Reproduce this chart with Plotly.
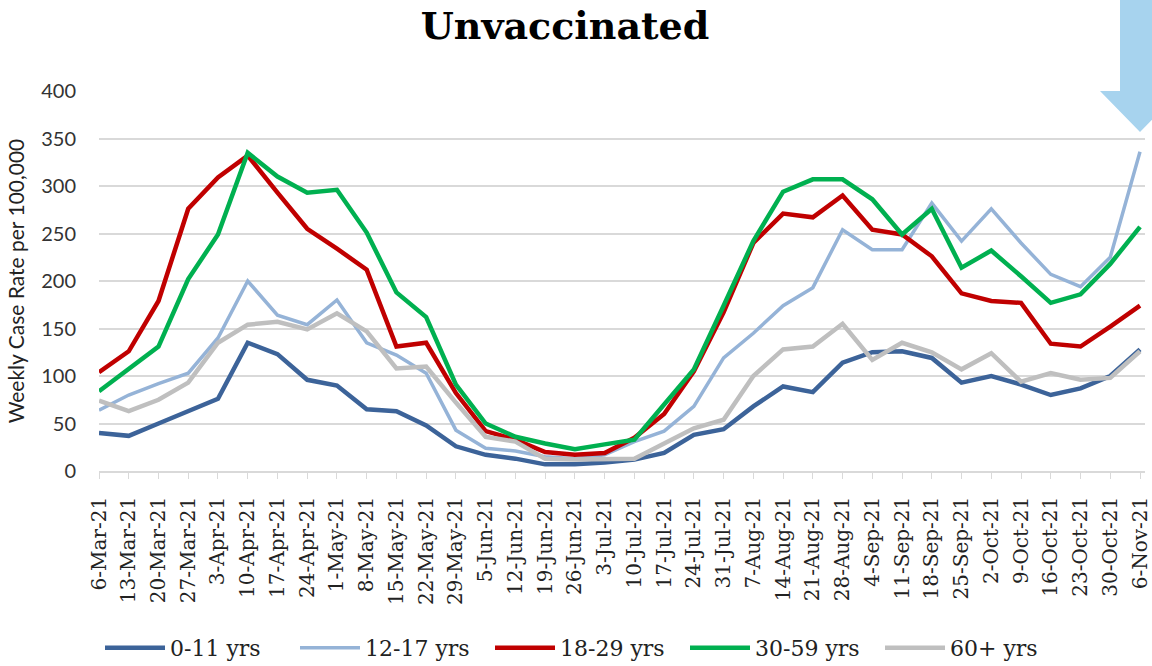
import plotly.graph_objects as go

dates = ["6-Mar-21", "13-Mar-21", "20-Mar-21", "27-Mar-21", "3-Apr-21", "10-Apr-21",
         "17-Apr-21", "24-Apr-21", "1-May-21", "8-May-21", "15-May-21", "22-May-21",
         "29-May-21", "5-Jun-21", "12-Jun-21", "19-Jun-21", "26-Jun-21", "3-Jul-21",
         "10-Jul-21", "17-Jul-21", "24-Jul-21", "31-Jul-21", "7-Aug-21", "14-Aug-21",
         "21-Aug-21", "28-Aug-21", "4-Sep-21", "11-Sep-21", "18-Sep-21", "25-Sep-21",
         "2-Oct-21", "9-Oct-21", "16-Oct-21", "23-Oct-21", "30-Oct-21", "6-Nov-21"]

age_0_11 = [40, 37, 50, 63, 76, 135, 123, 96, 90, 65, 63, 48,
            26, 17, 13, 7, 7, 9, 12, 19, 38, 44, 68, 89,
            83, 114, 125, 126, 119, 93, 100, 91, 80, 87, 100, 128]
age_12_17 = [64, 80, 92, 103, 140, 200, 164, 154, 180, 135, 122, 103,
             43, 24, 21, 15, 13, 17, 31, 42, 68, 119, 145, 174,
             193, 254, 233, 233, 282, 242, 276, 240, 207, 194, 225, 336]
age_18_29 = [104, 126, 179, 276, 309, 332, 293, 255, 234, 212, 131, 135,
             82, 42, 33, 20, 17, 19, 35, 60, 105, 167, 240, 271,
             267, 290, 254, 249, 226, 187, 179, 177, 134, 131, 152, 174]
age_30_59 = [84, 107, 131, 202, 249, 335, 310, 293, 296, 251, 188, 162,
             91, 50, 36, 29, 23, 28, 33, 70, 107, 174, 242, 294,
             307, 307, 286, 249, 276, 214, 232, 205, 177, 186, 218, 257]
age_60 = [74, 63, 75, 93, 135, 154, 157, 149, 166, 147, 108, 110,
          72, 36, 31, 13, 12, 13, 13, 29, 45, 54, 100, 128,
          131, 155, 117, 135, 125, 107, 124, 94, 103, 96, 98, 126]

series_names = ["0-11 yrs", "12-17 yrs", "18-29 yrs", "30-59 yrs", "60+ yrs"]
series_values = [age_0_11, age_12_17, age_18_29, age_30_59, age_60]
series_colors = ["#3C6399", "#95B3D7", "#C00000", "#00B050", "#BFBFBF"]
series_widths = [4.5, 3.5, 4.5, 4.5, 4.5]

y_ticks = [0, 50, 100, 150, 200, 250, 300, 350, 400]

fig = go.Figure()
for name, vals, col, w in zip(series_names, series_values, series_colors, series_widths):
    fig.add_trace(go.Scatter(x=list(range(len(dates))), y=vals, name=name, mode="lines",
                             line=dict(color=col, width=w)))

# plot area in pixels: x 99..1145, y 91..471
L, R, T, B = 99, 1145, 91, 471
W, H = R - L, B - T

def px(x):
    return (x - L) / W

def py(y):
    return (B - y) / H

# light blue arrow at top right
arrow_path = (f"M {px(1120)},{py(-5)} L {px(1160)},{py(-5)} L {px(1160)},{py(91)} "
              f"L {px(1180)},{py(91)} L {px(1140)},{py(132)} L {px(1100)},{py(91)} "
              f"L {px(1120)},{py(91)} Z")
fig.add_shape(type="path", xref="paper", yref="paper", path=arrow_path,
              fillcolor="#A7D3EE", line=dict(width=0), layer="above")

fig.update_layout(
    width=1152, height=666,
    margin=dict(l=L, r=1152 - R, t=T, b=666 - B, autoexpand=False),
    plot_bgcolor="white", paper_bgcolor="white",
    title=dict(text="<b>Unvaccinated</b>", x=565 / 1152, xanchor="center",
               y=1 - 26 / 666, yanchor="middle",
               font=dict(family="DejaVu Serif", size=38, color="black")),
    showlegend=True,
    legend=dict(orientation="h", x=px(100), xanchor="left", y=py(648), yanchor="middle",
                font=dict(family="DejaVu Serif", size=22, color="#222222"),
                itemwidth=60, entrywidth=120, traceorder="normal"),
    xaxis=dict(tickmode="array", tickvals=list(range(len(dates))), ticktext=dates,
               tickangle=-90, range=[0, 35 * W / 1041], automargin=False,
               tickfont=dict(family="DejaVu Serif", size=20, color="#222222"),
               showgrid=False, showline=True, linecolor="#D9D9D9", linewidth=1.5,
               ticks="outside", ticklen=6, tickcolor="#D9D9D9", ticklabelstandoff=10,
               zeroline=False),
    yaxis=dict(range=[0, 400], tickvals=y_ticks, showgrid=True, gridcolor="#D9D9D9",
               gridwidth=1.5, zeroline=False, showline=False, ticks="", automargin=False,
               ticklabelstandoff=22,
               tickfont=dict(family="Lato", size=20, color="#333333"),
               title=dict(text="Weekly Case Rate per 100,000", standoff=10,
                          font=dict(family="Lato", size=21, color="#222222"))),
)

fig.write_html("out.html", config={"displayModeBar": False},
               post_script="document.body.style.margin='0px';")
